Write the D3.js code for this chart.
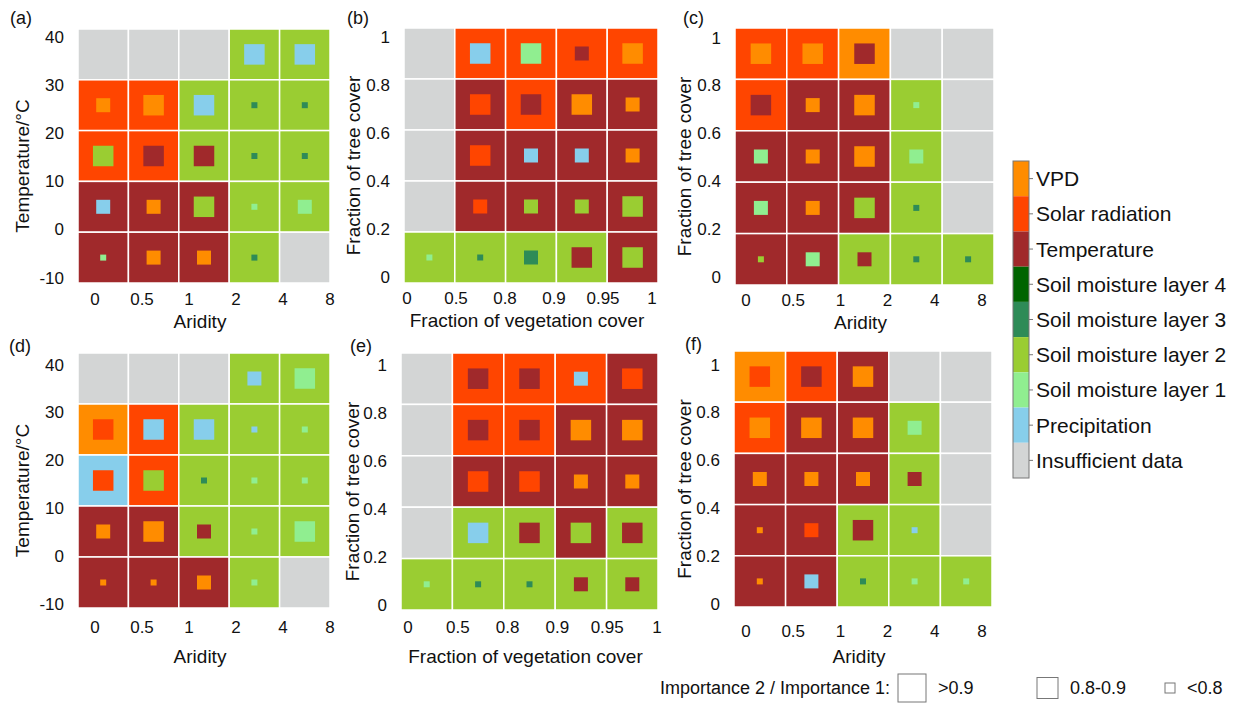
<!DOCTYPE html>
<html lang="en">
<head>
  <meta charset="UTF-8" />
  <title>Dominant controls by aridity, temperature and cover</title>
  <script src="https://d3js.org/d3.v7.min.js"></script>
  <style>
    body {
      margin: 0;
      background: #fff;
    }

    svg {
      display: block;
      font-family: "Liberation Sans", Arial, sans-serif;
    }

    text {
      fill: #111;
    }
  </style>
</head>

<body>
  <svg id="chart" width="1247" height="706"></svg>

  <script>
    // factor legend (importance 1 = cell colour, importance 2 = inner square)
    const factorCodes = ["V", "R", "T", "S4", "S3", "S2", "S1", "P", "N"];
    const factorNames = ["VPD", "Solar radiation", "Temperature", "Soil moisture layer 4",
      "Soil moisture layer 3", "Soil moisture layer 2", "Soil moisture layer 1",
      "Precipitation", "Insufficient data"];
    const factorColors = ["#ff8c00", "#ff4500", "#a0292b", "#006400", "#2e8b57",
      "#9acd32", "#90ee90", "#87ceeb", "#d3d5d5"];

    // ratio classes of importance 2 / importance 1
    const ratioCodes = ["L", "M", "S"];
    const ratioLabels = [">0.9", "0.8-0.9", "<0.8"];

    const aridityTicks = ["0", "0.5", "1", "2", "4", "8"];
    const tempTicks = ["40", "30", "20", "10", "0", "-10"];
    const vegTicks = ["0", "0.5", "0.8", "0.9", "0.95", "1"];
    const treeTicks = ["1", "0.8", "0.6", "0.4", "0.2", "0"];

    // each cell: first factor : second factor : ratio class (rows top -> bottom)
    const panelA = [
      "N       N       N       S2:P:L  S2:P:L",
      "R:V:M   R:V:L   S2:P:L  S2:S3:S S2:S3:S",
      "R:S2:L  R:T:L   S2:T:L  S2:S3:S S2:S3:S",
      "T:P:M   T:V:M   T:S2:L  S2:S1:S S2:S1:M",
      "T:S1:S  T:V:M   T:V:M   S2:S3:S N"
    ];
    const panelB = [
      "N       R:P:L   R:S1:L  R:T:M   R:V:L",
      "N       T:R:L   R:T:L   T:V:L   T:V:M",
      "N       T:R:L   T:P:M   T:P:M   T:V:M",
      "N       T:R:M   T:S2:M  T:S2:M  T:S2:L",
      "S2:S1:S S2:S3:S S2:S3:M S2:T:L  T:S2:L"
    ];
    const panelC = [
      "R:V:L   R:V:L   V:T:L   N       N",
      "R:T:L   T:V:M   T:V:L   S2:S1:S N",
      "T:S1:M  T:V:M   T:V:L   S2:S1:M N",
      "T:S1:M  T:V:M   T:S2:L  S2:S3:S N",
      "T:S2:S  T:S1:M  S2:T:M  S2:S3:S S2:S3:S"
    ];
    const panelD = [
      "N       N       N       S2:P:M  S2:S1:L",
      "V:R:L   R:P:L   S2:P:L  S2:P:S  S2:S1:S",
      "P:R:L   R:S2:L  S2:S3:S S2:S1:S S2:S1:S",
      "T:V:M   T:V:L   S2:T:M  S2:S1:S S2:S1:L",
      "T:V:S   T:V:S   T:V:M   S2:S1:S N"
    ];
    const panelE = [
      "N       R:T:L   R:T:L   R:P:M   T:R:L",
      "N       R:T:L   R:T:L   T:V:L   T:V:L",
      "N       T:R:L   T:R:L   T:V:M   T:V:M",
      "N       S2:P:L  S2:T:L  T:S2:L  S2:T:L",
      "S2:S1:S S2:S3:S S2:S3:S S2:T:M  S2:T:M"
    ];
    const panelF = [
      "V:R:L   R:T:L   T:V:L   N       N",
      "R:V:L   T:V:L   T:V:L   S2:S1:M N",
      "T:V:M   T:V:M   T:V:M   S2:T:M  N",
      "T:V:S   T:R:M   S2:T:L  S2:P:S  N",
      "T:V:S   T:P:M   S2:S3:S S2:S1:S S2:S1:S"
    ];

    const color = d3.scaleOrdinal().domain(factorCodes).range(factorColors);
    const squareSize = d3.scaleOrdinal().domain(ratioCodes).range([20.5, 14, 6]);

    const panels = [
      { tag: "(a)", rows: panelA, xTicks: aridityTicks, yTicks: tempTicks, xTitle: "Aridity", yTitle: "Temperature/°C",
        gx: 78, gy: 29, gw: 252, gh: 254, lx: [95, 330], ly: [37, 278], tagX: 10, tagY: 24, xTickY: 299, xTitleY: 321, yTitleX: 22 },
      { tag: "(b)", rows: panelB, xTicks: vegTicks, yTicks: treeTicks, xTitle: "Fraction of vegetation cover", yTitle: "Fraction of tree cover",
        gx: 404, gy: 28, gw: 254, gh: 255, lx: [407, 652], ly: [37, 277], tagX: 347, tagY: 24, xTickY: 298, xTitleY: 320, yTitleX: 353 },
      { tag: "(c)", rows: panelC, xTicks: aridityTicks, yTicks: treeTicks, xTitle: "Aridity", yTitle: "Fraction of tree cover",
        gx: 735, gy: 28, gw: 259, gh: 257, lx: [746, 982], ly: [38, 277], tagX: 683, tagY: 24, xTickY: 300, xTitleY: 322, yTitleX: 684 },
      { tag: "(d)", rows: panelD, xTicks: aridityTicks, yTicks: tempTicks, xTitle: "Aridity", yTitle: "Temperature/°C",
        gx: 78, gy: 353, gw: 252, gh: 255, lx: [95, 330], ly: [365, 604], tagX: 9, tagY: 352, xTickY: 627, xTitleY: 656, yTitleX: 22 },
      { tag: "(e)", rows: panelE, xTicks: vegTicks, yTicks: treeTicks, xTitle: "Fraction of vegetation cover", yTitle: "Fraction of tree cover",
        gx: 401, gy: 353, gw: 257, gh: 257, lx: [408, 657], ly: [365, 605], tagX: 350, tagY: 352, xTickY: 627, xTitleY: 656, yTitleX: 352 },
      { tag: "(f)", rows: panelF, xTicks: aridityTicks, yTicks: treeTicks, xTitle: "Aridity", yTitle: "Fraction of tree cover",
        gx: 734, gy: 351, gw: 258, gh: 256, lx: [746, 982], ly: [365, 604], tagX: 685, tagY: 350, xTickY: 631, xTitleY: 656, yTitleX: 684 }
    ];

    const svg = d3.select("#chart");

    panels.forEach(p => {
      const g = svg.append("g");
      const x = d3.scaleBand().domain(d3.range(5)).range([p.gx, p.gx + p.gw]);
      const y = d3.scaleBand().domain(d3.range(5)).range([p.gy, p.gy + p.gh]);

      const cells = p.rows.flatMap((row, r) => row.trim().split(/\s+/).map((c, i) => {
        const [first, second, ratio] = c.split(":");
        return { r, i, first, second, ratio };
      }));

      g.selectAll("rect.cell")
        .data(cells)
        .join("rect")
        .attr("class", "cell")
        .attr("x", d => x(d.i))
        .attr("y", d => y(d.r))
        .attr("width", x.bandwidth())
        .attr("height", y.bandwidth())
        .attr("fill", d => color(d.first))
        .attr("stroke", "#fff")
        .attr("stroke-width", 1.5);

      g.selectAll("rect.inner")
        .data(cells.filter(d => d.second))
        .join("rect")
        .attr("class", "inner")
        .attr("x", d => x(d.i) + x.bandwidth() / 2 - squareSize(d.ratio) / 2)
        .attr("y", d => y(d.r) + y.bandwidth() / 2 - squareSize(d.ratio) / 2)
        .attr("width", d => squareSize(d.ratio))
        .attr("height", d => squareSize(d.ratio))
        .attr("fill", d => color(d.second));

      // tick labels sit roughly at the bin edges
      const xt = d3.scalePoint().domain(p.xTicks).range(p.lx);
      const yt = d3.scalePoint().domain(p.yTicks).range(p.ly);

      g.selectAll("text.xtick")
        .data(p.xTicks)
        .join("text")
        .attr("class", "xtick")
        .attr("x", d => xt(d))
        .attr("y", p.xTickY)
        .attr("text-anchor", "middle")
        .attr("dominant-baseline", "central")
        .attr("font-size", 17)
        .text(d => d);

      g.selectAll("text.ytick")
        .data(p.yTicks)
        .join("text")
        .attr("class", "ytick")
        .attr("x", p.gx - 14)
        .attr("y", d => yt(d))
        .attr("text-anchor", "end")
        .attr("dominant-baseline", "central")
        .attr("font-size", 17)
        .text(d => d);

      g.append("text")
        .attr("x", p.gx + p.gw / 2 - 4)
        .attr("y", p.xTitleY)
        .attr("text-anchor", "middle")
        .attr("dominant-baseline", "central")
        .attr("font-size", 19)
        .text(p.xTitle);

      g.append("text")
        .attr("transform", `translate(${p.yTitleX},${p.gy + p.gh / 2 + 10}) rotate(-90)`)
        .attr("text-anchor", "middle")
        .attr("dominant-baseline", "central")
        .attr("font-size", 19)
        .text(p.yTitle);

      g.append("text")
        .attr("x", p.tagX)
        .attr("y", p.tagY)
        .attr("font-size", 18)
        .text(p.tag);
    });

    // colour bar legend
    const cb = svg.append("g");
    const cbY = d3.scaleBand().domain(factorNames).range([161, 478]);
    const cbX = 1013, cbW = 16;

    cb.selectAll("rect")
      .data(factorNames)
      .join("rect")
      .attr("x", cbX)
      .attr("y", d => cbY(d))
      .attr("width", cbW)
      .attr("height", cbY.bandwidth())
      .attr("fill", (d, i) => factorColors[i]);

    cb.append("rect")
      .attr("x", cbX)
      .attr("y", 161)
      .attr("width", cbW)
      .attr("height", 478 - 161)
      .attr("fill", "none")
      .attr("stroke", "#777")
      .attr("stroke-width", 1);

    cb.selectAll("line")
      .data(factorNames)
      .join("line")
      .attr("x1", cbX + cbW)
      .attr("x2", cbX + cbW + 4)
      .attr("y1", d => cbY(d) + cbY.bandwidth() / 2)
      .attr("y2", d => cbY(d) + cbY.bandwidth() / 2)
      .attr("stroke", "#777");

    cb.selectAll("text")
      .data(factorNames)
      .join("text")
      .attr("x", cbX + cbW + 7)
      .attr("y", d => cbY(d) + cbY.bandwidth() / 2)
      .attr("dominant-baseline", "central")
      .attr("font-size", 21)
      .text(d => d);

    // size legend at the bottom
    const sl = svg.append("g");
    const legendSquares = [28, 21, 10];
    const legendX = [898, 1037, 1165];
    const legendCy = 688;

    sl.append("text")
      .attr("x", 660)
      .attr("y", legendCy)
      .attr("dominant-baseline", "central")
      .attr("font-size", 18)
      .text("Importance 2 / Importance 1:");

    ratioLabels.forEach((lab, i) => {
      const s = legendSquares[i];
      sl.append("rect")
        .attr("x", legendX[i])
        .attr("y", legendCy - s / 2)
        .attr("width", s)
        .attr("height", s)
        .attr("fill", "#fff")
        .attr("stroke", "#777")
        .attr("stroke-width", 1);
      sl.append("text")
        .attr("x", legendX[i] + s + 12)
        .attr("y", legendCy)
        .attr("dominant-baseline", "central")
        .attr("font-size", 18)
        .text(lab);
    });
  </script>
</body>
</html>
